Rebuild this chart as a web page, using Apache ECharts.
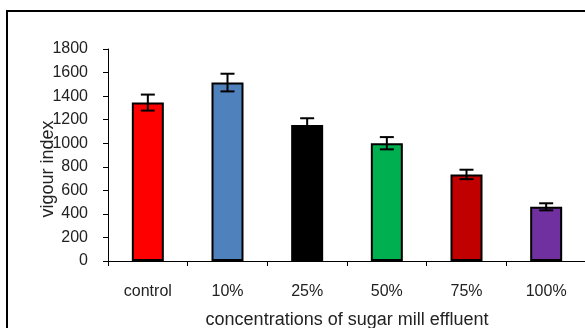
<!DOCTYPE html>
<html>
<head>
<meta charset="utf-8">
<script src="https://cdn.jsdelivr.net/npm/echarts@6/dist/echarts.min.js"></script>
<style>
html,body{margin:0;padding:0;background:#fff;}
#chart{width:585px;height:328px;}
</style>
</head>
<body>
<div id="chart"></div>
<script>
const categories = ['control', '10%', '25%', '50%', '75%', '100%'];
const values = [1345, 1515, 1155, 1000, 735, 460];
const errors = [68, 75, 57, 52, 40, 30];
const barColors = ['#FF0000', '#4F81BD', '#000000', '#00B050', '#C00000', '#7030A0'];
const yTicks = { min: 0, max: 1800, interval: 200 };

const chart = echarts.init(document.getElementById('chart'));
const font = 'Liberation Sans, Arial, sans-serif';

chart.setOption({
  animation: false,
  backgroundColor: '#fff',
  graphic: [{
    type: 'rect',
    shape: { x: 7, y: 11, width: 700, height: 500 },
    style: { fill: 'none', stroke: '#000', lineWidth: 2 },
    silent: true
  }],
  grid: { left: 108, top: 49, width: 478, height: 212, containLabel: false, outerBoundsMode: 'none' },
  xAxis: {
    type: 'category',
    data: categories,
    name: 'concentrations of sugar mill effluent',
    nameLocation: 'middle',
    nameGap: 50,
    nameMoveOverlap: false,
    nameTextStyle: { fontFamily: font, fontSize: 18, color: '#222' },
    axisLine: { lineStyle: { color: '#000', width: 1 } },
    axisTick: { show: true, length: 5, alignWithLabel: false, lineStyle: { color: '#000' } },
    axisLabel: { fontFamily: font, fontSize: 16, color: '#222', margin: 23 }
  },
  yAxis: {
    type: 'value',
    min: yTicks.min, max: yTicks.max, interval: yTicks.interval,
    name: 'vigour index',
    nameLocation: 'middle',
    nameGap: 51,
    nameMoveOverlap: false,
    nameTextStyle: { fontFamily: font, fontSize: 18, color: '#222', padding: [0, 28, 0, 0] },
    axisLine: { show: true, lineStyle: { color: '#000', width: 1 } },
    axisTick: { show: true, length: 5, lineStyle: { color: '#000' } },
    axisLabel: { fontFamily: font, fontSize: 16, color: '#222', margin: 20, formatter: v => String(v) },
    splitLine: { show: false }
  },
  series: [{
    type: 'bar',
    data: values.map((v, i) => ({ value: v, itemStyle: { color: barColors[i] } })),
    barWidth: 32,
    itemStyle: { borderColor: '#000', borderWidth: 2 },
    z: 2
  }, {
    type: 'custom',
    data: values.map((v, i) => [i, v, errors[i]]),
    z: 5,
    renderItem: function (params, api) {
      const i = api.value(0), v = api.value(1), e = api.value(2);
      const top = api.coord([i, v + e]);
      const bot = api.coord([i, v - e]);
      const hw = 7;
      const st = { stroke: '#000', lineWidth: 2 };
      return {
        type: 'group',
        children: [
          { type: 'line', shape: { x1: top[0], y1: top[1], x2: bot[0], y2: bot[1] }, style: st },
          { type: 'line', shape: { x1: top[0] - hw, y1: top[1], x2: top[0] + hw, y2: top[1] }, style: st },
          { type: 'line', shape: { x1: bot[0] - hw, y1: bot[1], x2: bot[0] + hw, y2: bot[1] }, style: st }
        ]
      };
    }
  }]
});
</script>
</body>
</html>
